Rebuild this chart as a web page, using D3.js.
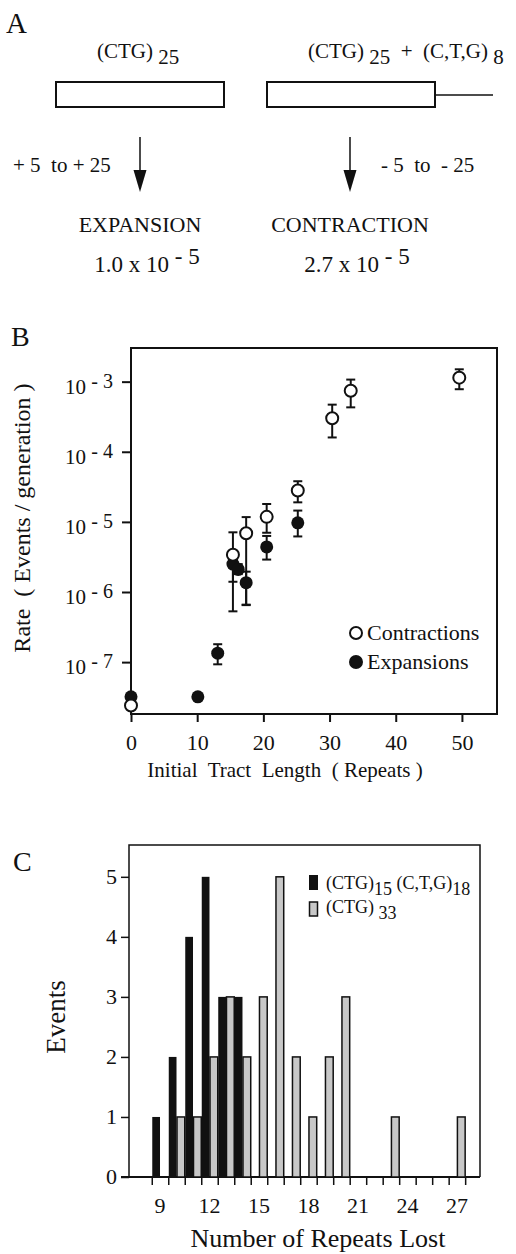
<!DOCTYPE html>
<html>
<head>
<meta charset="utf-8">
<script src="https://cdn.jsdelivr.net/npm/d3@7"></script>
<style>
  body { margin: 0; background: #fff; }
  svg text { white-space: pre; }
</style>
</head>
<body>
<div id="canvas"></div>
<script>
// ---- panel A text
const armLabels = ["+ 5  to + 25", "- 5  to  - 25"];
const outcomeLabels = ["EXPANSION", "CONTRACTION"];
const outcomeRates = ["1.0", "2.7"];
const outcomeExponent = "- 5";

// ---- panel B: rate vs initial tract length
const contractLength = [0, 15.4, 17.4, 20.5, 25.2, 30.4, 33.2, 49.6];
const contractRate = [2.4e-8, 3.4e-6, 6.9e-6, 1.18e-5, 2.8e-5, 3.0e-4, 7.4e-4, 1.14e-3];
const contractLow = [null, 5.3e-7, 6.5e-7, 7.0e-6, 1.9e-5, 1.6e-4, 4.3e-4, 7.8e-4];
const contractHigh = [null, 7.1e-6, 1.17e-5, 1.8e-5, 3.8e-5, 4.7e-4, 1.07e-3, 1.5e-3];

const expandLength = [0, 10.1, 13.1, 15.4, 16.2, 17.4, 20.5, 25.2];
const expandRate = [3.2e-8, 3.2e-8, 1.34e-7, 2.5e-6, 2.1e-6, 1.36e-6, 4.4e-6, 9.7e-6];
const expandLow = [null, null, 9.3e-8, 1.4e-6, 1.8e-6, 6.6e-7, 2.9e-6, 6.2e-6];
const expandHigh = [null, null, 1.8e-7, 2.9e-6, 2.5e-6, 1.95e-6, 6.3e-6, 1.45e-5];

const lengthTicks = [0, 10, 20, 30, 40, 50];
const rateExponents = [-3, -4, -5, -6, -7];

// ---- panel C: histogram of repeats lost
const repeatsLost = [9, 10, 11, 12, 13, 14, 15, 16, 17, 18, 19, 20, 21, 22, 23, 24, 25, 26, 27];
const hybridEvents = [1, 2, 4, 5, 3, 3, 0, 0, 0, 0, 0, 0, 0, 0, 0, 0, 0, 0, 0];
const pureEvents = [0, 1, 1, 2, 3, 2, 3, 5, 2, 1, 2, 3, 0, 0, 1, 0, 0, 0, 1];
const lostTickLabels = [9, 12, 15, 18, 21, 24, 27];
const eventTicks = [0, 1, 2, 3, 4, 5];

const width = 516;
const height = 1254;
const ink = "#111";

const svg = d3.select("#canvas").append("svg")
    .attr("width", width)
    .attr("height", height)
    .style("font-family", "'Liberation Serif', 'Times New Roman', serif")
    .style("fill", ink);

// ================= A =================
const gA = svg.append("g");
gA.append("text").attr("x", 6).attr("y", 33).style("font-size", "29px").text("A");

const t1 = gA.append("text").attr("x", 97).attr("y", 58).style("font-size", "21px");
t1.append("tspan").text("(CTG) ");
t1.append("tspan").attr("dy", 6).text("25");

const t2 = gA.append("text").attr("x", 308).attr("y", 58).style("font-size", "21px");
t2.append("tspan").text("(CTG) ");
t2.append("tspan").attr("dy", 6).text("25");
t2.append("tspan").attr("dy", -6).text("  +  (C,T,G) ");
t2.append("tspan").attr("dy", 6).text("8");

const boxes = [[56, 224], [267, 435]];
gA.selectAll("rect.construct").data(boxes).enter().append("rect")
    .attr("class", "construct")
    .attr("x", d => d[0]).attr("y", 82)
    .attr("width", d => d[1] - d[0]).attr("height", 25)
    .style("fill", "none").style("stroke", ink).style("stroke-width", 2);
gA.append("line").attr("x1", 435).attr("x2", 493).attr("y1", 95).attr("y2", 95)
    .style("stroke", ink).style("stroke-width", 1.5);

const arrowX = [140, 350];
arrowX.forEach((ax, i) => {
    gA.append("line").attr("x1", ax).attr("x2", ax).attr("y1", 137).attr("y2", 174)
        .style("stroke", ink).style("stroke-width", 1.5);
    gA.append("path").attr("d", `M${ax - 6.5},170 L${ax + 6.5},170 L${ax},192 Z`).style("fill", ink);

    gA.append("text")
        .attr("x", i === 0 ? 13 : 381).attr("y", 172)
        .style("font-size", "21px")
        .text(armLabels[i]);

    gA.append("text")
        .attr("x", ax).attr("y", 232)
        .attr("text-anchor", "middle")
        .style("font-size", "22px")
        .text(outcomeLabels[i]);

    const r = gA.append("text")
        .attr("x", ax + 7).attr("y", 272)
        .attr("text-anchor", "middle")
        .style("font-size", "23px");
    r.append("tspan").text(outcomeRates[i] + " x 10 ");
    r.append("tspan").attr("dy", -8).text(outcomeExponent);
});

// ================= B =================
const mB = { left: 131, right: 497, top: 348, bottom: 714 };
const gB = svg.append("g");
gB.append("text").attr("x", 11).attr("y", 346).style("font-size", "28px").text("B");

const x = d3.scaleLinear().domain([0, 55.3]).range([mB.left, mB.right]);
const y = d3.scaleLog().domain([Math.pow(10, -7.74), Math.pow(10, -2.52)]).range([mB.bottom, mB.top]);

gB.append("rect")
    .attr("x", mB.left).attr("y", mB.top)
    .attr("width", mB.right - mB.left).attr("height", mB.bottom - mB.top)
    .style("fill", "none").style("stroke", ink).style("stroke-width", 2);

const xAxisB = gB.append("g")
    .attr("transform", `translate(0, ${mB.bottom})`)
    .call(d3.axisBottom(x).tickValues(lengthTicks).tickSize(8).tickSizeOuter(0).tickFormat(d3.format("d")));
xAxisB.select(".domain").remove();
xAxisB.selectAll("line").style("stroke", ink).style("stroke-width", 2);
xAxisB.selectAll("text")
    .attr("y", 0).attr("dy", 36)
    .style("font-family", "'Liberation Serif', serif").style("font-size", "22px").style("fill", ink);

const rateTicks = rateExponents.map(e => Math.pow(10, e));
const yAxisB = gB.append("g")
    .attr("transform", `translate(${mB.left}, 0)`)
    .call(d3.axisLeft(y).tickValues(rateTicks).tickSize(9).tickSizeOuter(0).tickFormat(""));
yAxisB.select(".domain").remove();
yAxisB.selectAll("line").style("stroke", ink).style("stroke-width", 2);

rateExponents.forEach(e => {
    const lab = gB.append("text")
        .attr("x", 113).attr("y", y(Math.pow(10, e)) + 12)
        .attr("text-anchor", "end")
        .style("font-size", "21px");
    lab.append("tspan").text("10 ");
    lab.append("tspan").attr("dy", -6).style("font-size", "20px").text("- " + (-e));
});

gB.append("text")
    .attr("transform", "translate(30, 518) rotate(-90)")
    .attr("text-anchor", "middle")
    .style("font-size", "24px")
    .text("Rate  ( Events / generation )");

gB.append("text")
    .attr("x", 285).attr("y", 777)
    .attr("text-anchor", "middle")
    .style("font-size", "21px")
    .text("Initial  Tract  Length  ( Repeats )");

const contractions = contractLength.map((d, i) => ({ len: d, rate: contractRate[i], lo: contractLow[i], hi: contractHigh[i] }));
const expansions = expandLength.map((d, i) => ({ len: d, rate: expandRate[i], lo: expandLow[i], hi: expandHigh[i] }));

function drawBars(data) {
    const withErr = data.filter(d => d.lo !== null);
    gB.selectAll(null).data(withErr).enter().append("line")
        .attr("x1", d => x(d.len)).attr("x2", d => x(d.len))
        .attr("y1", d => y(d.lo)).attr("y2", d => y(d.hi))
        .style("stroke", ink).style("stroke-width", 2);
    ["lo", "hi"].forEach(k => {
        gB.selectAll(null).data(withErr).enter().append("line")
            .attr("x1", d => x(d.len) - 4.5).attr("x2", d => x(d.len) + 4.5)
            .attr("y1", d => y(d[k])).attr("y2", d => y(d[k]))
            .style("stroke", ink).style("stroke-width", 2);
    });
}
drawBars(expansions);
drawBars(contractions);

gB.selectAll("circle.exp").data(expansions).enter().append("circle")
    .attr("class", "exp")
    .attr("cx", d => x(d.len)).attr("cy", d => y(d.rate)).attr("r", 6.5)
    .style("fill", ink);
gB.selectAll("circle.con").data(contractions).enter().append("circle")
    .attr("class", "con")
    .attr("cx", d => x(d.len)).attr("cy", d => y(d.rate)).attr("r", 6)
    .style("fill", "#fff").style("stroke", ink).style("stroke-width", 2);

const legendB = [["Contractions", "#fff"], ["Expansions", ink]];
legendB.forEach((l, i) => {
    gB.append("circle").attr("cx", 356).attr("cy", 633 + i * 29).attr("r", 6)
        .style("fill", l[1]).style("stroke", ink).style("stroke-width", 2);
    gB.append("text").attr("x", 367).attr("y", 640 + i * 29).style("font-size", "22px").text(l[0]);
});

// ================= C =================
const mC = { left: 129, right: 480, top: 845, bottom: 1177 };
const gC = svg.append("g");
gC.append("text").attr("x", 13).attr("y", 871).style("font-size", "28px").text("C");

const xc = d3.scaleLinear().domain([7.12, 28.4]).range([mC.left, mC.right]);
const yc = d3.scaleLinear().domain([0, 5.53]).range([mC.bottom, mC.top]);

gC.append("path")
    .attr("d", `M${mC.left},${mC.bottom} V${mC.top} H${mC.right} V${mC.bottom}`)
    .style("fill", "none").style("stroke", ink).style("stroke-width", 1.5);

const binEdges = repeatsLost.map(v => v - 0.5).concat([27.5]);
const xAxisC = gC.append("g")
    .attr("transform", `translate(0, ${mC.bottom})`)
    .call(d3.axisBottom(xc).tickValues(binEdges).tickSize(8).tickSizeOuter(0).tickFormat(""));
xAxisC.select(".domain").remove();
xAxisC.selectAll("line").style("stroke", ink).style("stroke-width", 1.5);
gC.append("line").attr("x1", 121).attr("x2", mC.right).attr("y1", mC.bottom).attr("y2", mC.bottom)
    .style("stroke", ink).style("stroke-width", 2);

gC.selectAll("text.xl").data(lostTickLabels).enter().append("text")
    .attr("class", "xl")
    .attr("x", d => xc(d)).attr("y", 1213)
    .attr("text-anchor", "middle")
    .style("font-size", "22px")
    .text(d => d);

const yAxisC = gC.append("g")
    .attr("transform", `translate(${mC.left}, 0)`)
    .call(d3.axisLeft(yc).tickValues(eventTicks).tickSize(8).tickSizeOuter(0).tickFormat(""));
yAxisC.select(".domain").remove();
yAxisC.selectAll("line").style("stroke", ink).style("stroke-width", 1.5);
gC.selectAll("text.yl").data(eventTicks).enter().append("text")
    .attr("class", "yl")
    .attr("x", 117).attr("y", d => yc(d) + 7)
    .attr("text-anchor", "end")
    .style("font-size", "22px")
    .text(d => d);

const hybrid = repeatsLost.map((v, i) => ({ v: v, n: hybridEvents[i] })).filter(d => d.n > 0);
const pure = repeatsLost.map((v, i) => ({ v: v, n: pureEvents[i] })).filter(d => d.n > 0);

gC.selectAll("rect.pure").data(pure).enter().append("rect")
    .attr("class", "pure")
    .attr("x", d => xc(d.v) + 0.5)
    .attr("y", d => yc(d.n))
    .attr("width", d => xc(d.v + 0.5) - xc(d.v) - 0.5)
    .attr("height", d => yc(0) - yc(d.n))
    .style("fill", "#c8c8c8").style("stroke", ink).style("stroke-width", 1.5);

gC.selectAll("rect.hybrid").data(hybrid).enter().append("rect")
    .attr("class", "hybrid")
    .attr("x", d => xc(d.v - 0.5) + 0.5)
    .attr("y", d => yc(d.n))
    .attr("width", d => xc(d.v) - xc(d.v - 0.5) - 0.5)
    .attr("height", d => yc(0) - yc(d.n))
    .style("fill", ink);

gC.append("rect").attr("x", 309).attr("y", 875).attr("width", 9).attr("height", 15).style("fill", ink);
gC.append("rect").attr("x", 309.5).attr("y", 902).attr("width", 8).attr("height", 14)
    .style("fill", "#c8c8c8").style("stroke", ink).style("stroke-width", 1.5);

const l1 = gC.append("text").attr("x", 326).attr("y", 889).style("font-size", "18px");
l1.append("tspan").text("(CTG)");
l1.append("tspan").attr("dy", 6).text("15 ");
l1.append("tspan").attr("dy", -6).text("(C,T,G)");
l1.append("tspan").attr("dy", 6).text("18");

const l2 = gC.append("text").attr("x", 326).attr("y", 913).style("font-size", "18px");
l2.append("tspan").text("(CTG) ");
l2.append("tspan").attr("dy", 6).text("33");

gC.append("text")
    .attr("transform", "translate(65, 1017) rotate(-90)")
    .attr("text-anchor", "middle")
    .style("font-size", "27px")
    .text("Events");

gC.append("text")
    .attr("x", 318).attr("y", 1247)
    .attr("text-anchor", "middle")
    .style("font-size", "26px")
    .text("Number of Repeats Lost");
</script>
</body>
</html>
